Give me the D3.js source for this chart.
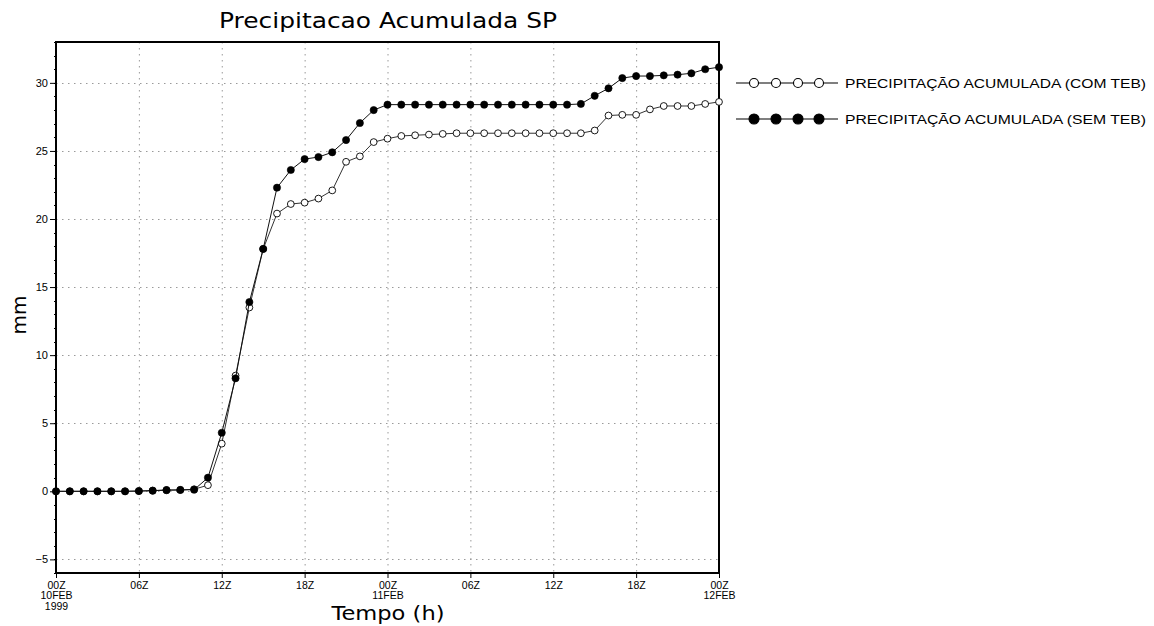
<!DOCTYPE html>
<html>
<head>
<meta charset="utf-8">
<script src="https://cdn.jsdelivr.net/npm/d3@7"></script>
<style>
  html, body { margin: 0; padding: 0; background: #fff; }
  svg { display: block; }
</style>
</head>
<body>
<svg id="chart" width="1154" height="626"></svg>
<script>
// Hourly accumulated precipitation (mm), 00Z 10FEB1999 to 00Z 12FEB1999
const hours = d3.range(0, 49);

const comTEB = [
  0, 0, 0, 0, 0, 0, 0.02, 0.05, 0.1, 0.1,
  0.15, 0.45, 3.5, 8.5, 13.5, 17.8, 20.4, 21.1, 21.2, 21.5,
  22.1, 24.2, 24.6, 25.65, 25.9, 26.1, 26.15, 26.2, 26.25, 26.3,
  26.3, 26.3, 26.3, 26.3, 26.3, 26.3, 26.3, 26.3, 26.3, 26.5,
  27.6, 27.65, 27.65, 28.05, 28.3, 28.3, 28.3, 28.45, 28.6
];

const semTEB = [
  0, 0, 0, 0, 0, 0, 0.02, 0.05, 0.08, 0.1,
  0.12, 1.0, 4.3, 8.3, 13.9, 17.8, 22.3, 23.6, 24.4, 24.55,
  24.9, 25.8, 27.05, 28.0, 28.4, 28.4, 28.4, 28.4, 28.4, 28.4,
  28.4, 28.4, 28.4, 28.4, 28.4, 28.4, 28.4, 28.4, 28.45, 29.05,
  29.6, 30.35, 30.5, 30.5, 30.55, 30.6, 30.7, 31.0, 31.15
];

const xTickHours = [0, 6, 12, 18, 24, 30, 36, 42, 48];
const xTickLabels = [
  ["00Z", "10FEB", "1999"], ["06Z"], ["12Z"], ["18Z"],
  ["00Z", "11FEB"], ["06Z"], ["12Z"], ["18Z"], ["00Z", "12FEB"]
];
const yTicks = [-5, 0, 5, 10, 15, 20, 25, 30];

const seriesNames = [
  "PRECIPITAÇÃO ACUMULADA (COM TEB)",
  "PRECIPITAÇÃO ACUMULADA (SEM TEB)"
];

const svg = d3.select("#chart");
const plot = { left: 56, right: 719, top: 42, bottom: 573 };

const x = d3.scaleLinear().domain([0, 48]).range([plot.left, plot.right]);
const y = d3.scaleLinear().domain([-6, 33]).range([plot.bottom, plot.top]);

const smallFont = "'Liberation Sans', Arial, sans-serif";
const titleFont = "'DejaVu Sans', 'Liberation Sans', sans-serif";

// dotted grid
const grid = svg.append("g").attr("stroke", "#9a9a9a").attr("stroke-width", 1)
  .attr("stroke-dasharray", "1.5,4.5");
grid.selectAll("line.v").data(xTickHours.slice(1, -1)).join("line")
  .attr("x1", d => x(d) + 0.5).attr("x2", d => x(d) + 0.5)
  .attr("y1", plot.top).attr("y2", plot.bottom);
grid.selectAll("line.h").data(yTicks).join("line")
  .attr("x1", plot.left).attr("x2", plot.right)
  .attr("y1", d => Math.round(y(d)) + 0.5).attr("y2", d => Math.round(y(d)) + 0.5);

// y axis
const yAxis = svg.append("g")
  .attr("transform", `translate(${plot.left},0)`)
  .call(d3.axisLeft(y).tickValues(yTicks).tickSize(6).tickPadding(2)
    .tickFormat(d => d < 0 ? "\u2212" + Math.abs(d) : d));
yAxis.select(".domain").remove();
yAxis.selectAll("text").attr("font-family", smallFont).attr("font-size", 11)
  .attr("fill", "#000");
yAxis.selectAll("line").attr("stroke", "#000");

// minor ticks on the y axis
svg.append("g").selectAll("line").data(d3.range(-6, 34)).join("line")
  .attr("x1", plot.left - 2).attr("x2", plot.left)
  .attr("y1", d => Math.round(y(d)) + 0.5).attr("y2", d => Math.round(y(d)) + 0.5)
  .attr("stroke", "#000").attr("stroke-width", 1);

// x axis
const xAxis = svg.append("g")
  .attr("transform", `translate(0,${plot.bottom})`)
  .call(d3.axisBottom(x).tickValues(xTickHours).tickSize(5).tickFormat(""));
xAxis.select(".domain").remove();
xAxis.selectAll("line").attr("stroke", "#000");
xAxis.selectAll(".tick").each(function(d, i) {
  const t = d3.select(this).append("text")
    .attr("font-family", smallFont).attr("font-size", 10.5)
    .attr("fill", "#000").attr("text-anchor", "middle");
  xTickLabels[i].forEach((s, k) => {
    t.append("tspan").attr("x", 0).attr("y", 15.5 + k * 10.5).text(s);
  });
});

// frame
svg.append("rect")
  .attr("x", plot.left).attr("y", plot.top)
  .attr("width", plot.right - plot.left).attr("height", plot.bottom - plot.top)
  .attr("fill", "none").attr("stroke", "#000").attr("stroke-width", 2);

// series
const line = d3.line().x((d, i) => x(hours[i])).y(d => y(d));

function drawSeries(values, filled) {
  const g = svg.append("g");
  g.append("path").datum(values)
    .attr("d", line).attr("fill", "none")
    .attr("stroke", filled ? "#111" : "#333").attr("stroke-width", 1);
  g.selectAll("circle").data(values).join("circle")
    .attr("cx", (d, i) => x(hours[i])).attr("cy", d => y(d))
    .attr("r", filled ? 3.6 : 3.4)
    .attr("fill", filled ? "#000" : "#fff")
    .attr("stroke", "#000").attr("stroke-width", filled ? 0.6 : 0.9);
}
drawSeries(comTEB, false);
drawSeries(semTEB, true);

// legend
const legend = svg.append("g");
seriesNames.forEach((name, i) => {
  const ly = 83 + i * 36;
  const filled = i === 1;
  legend.append("line")
    .attr("x1", 736).attr("x2", 838).attr("y1", ly).attr("y2", ly)
    .attr("stroke", "#000").attr("stroke-width", 1.2);
  legend.selectAll(null).data([754, 776, 798, 819]).join("circle")
    .attr("cx", d => d).attr("cy", ly).attr("r", filled ? 5 : 4.5)
    .attr("fill", filled ? "#000" : "#fff")
    .attr("stroke", "#000").attr("stroke-width", 1.1);
  legend.append("text")
    .attr("x", 845).attr("y", ly + 4.5)
    .attr("font-family", smallFont).attr("font-size", 12.5)
    .attr("textLength", 301).attr("lengthAdjust", "spacingAndGlyphs")
    .attr("fill", "#000").text(name);
});

// title and axis titles
svg.append("text")
  .attr("x", 388).attr("y", 28).attr("text-anchor", "middle")
  .attr("font-family", titleFont).attr("font-size", 22)
  .attr("textLength", 338).attr("lengthAdjust", "spacingAndGlyphs")
  .attr("fill", "#000").text("Precipitacao Acumulada SP");

svg.append("text")
  .attr("x", 388).attr("y", 620).attr("text-anchor", "middle")
  .attr("font-family", titleFont).attr("font-size", 19)
  .attr("textLength", 113).attr("lengthAdjust", "spacingAndGlyphs")
  .attr("fill", "#000").text("Tempo (h)");

svg.append("text")
  .attr("transform", "translate(26,315) rotate(-90)").attr("text-anchor", "middle")
  .attr("font-family", titleFont).attr("font-size", 20)
  .attr("fill", "#000").text("mm");
</script>
</body>
</html>
